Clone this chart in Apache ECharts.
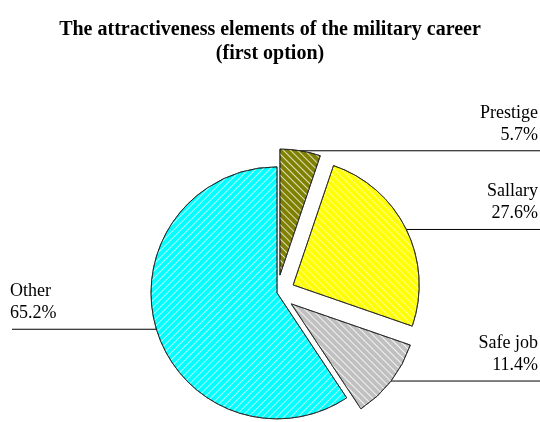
<!DOCTYPE html>
<html><head><meta charset="utf-8">
<script src="https://cdn.jsdelivr.net/npm/echarts@6/dist/echarts.min.js"></script>
<style>html,body{margin:0;padding:0;background:#fff}#c{width:540px;height:422px}</style>
</head><body><div id="c"></div>
<script>
// ---- data ----
const titleLines = ['The attractiveness elements of the military career', '(first option)'];
const categories = ['Prestige', 'Sallary', 'Safe job', 'Other'];
const values = [5.7, 27.6, 11.4, 65.2];
const exploded = [true, true, true, false];

// ---- styles / layout ----
const sliceColors = ['#808000', '#ffff00', '#c0c0c0', '#00ffff'];
const hatchRotation = [Math.PI / 4, Math.PI / 4, Math.PI / 4, -Math.PI / 4];
const hatchColor = ['rgba(255,255,255,0.75)', 'rgba(255,255,255,0.55)', 'rgba(255,255,255,0.8)', 'rgba(255,255,255,0.7)'];
const CENTER = ['51.3%', '69.4%'];
const RADIUS = 126;
const OFFSET = 18;
const FONT = '"Liberation Serif", "Times New Roman", serif';

const chart = echarts.init(document.getElementById('c'), null, { renderer: 'canvas' });

const pieData = categories.map((name, i) => ({
  name: name,
  value: values[i],
  selected: exploded[i],
  itemStyle: {
    color: sliceColors[i],
    borderColor: '#222',
    borderWidth: 0.8,
    decal: {
      symbol: 'rect',
      symbolSize: 1,
      dashArrayX: [1, 0],
      dashArrayY: [1, 4],
      rotation: hatchRotation[i],
      color: hatchColor[i]
    }
  }
}));

const labelData = categories.map((name, i) => ({ name: name, value: values[i] }));

function pctX(v) { return parseFloat(v) / 100 * chart.getWidth(); }
function pctY(v) { return parseFloat(v) / 100 * chart.getHeight(); }

chart.setOption({
  backgroundColor: '#ffffff',
  animation: false,
  title: titleLines.map((t, i) => ({
    text: t,
    left: 'center',
    top: 18 + i * 24,
    padding: 0,
    textStyle: { fontFamily: FONT, fontWeight: 'bold', fontSize: 20, lineHeight: 24, color: '#000' }
  })),
  series: [{
    type: 'pie',
    center: CENTER,
    radius: RADIUS,
    startAngle: 90,
    clockwise: true,
    selectedMode: 'multiple',
    selectedOffset: OFFSET,
    data: pieData,
    emphasis: { disabled: true },
    label: { show: false },
    labelLine: { show: false }
  }, {
    type: 'pie',
    center: CENTER,
    radius: RADIUS,
    startAngle: 90,
    clockwise: true,
    silent: true,
    selectedMode: false,
    data: labelData,
    itemStyle: { color: 'rgba(0,0,0,0)', borderWidth: 0 },
    emphasis: { disabled: true },
    label: {
      show: true,
      position: 'outside',
      formatter: '{b}\n{c}%',
      fontFamily: FONT,
      fontSize: 18,
      lineHeight: 22,
      color: '#000'
    },
    labelLine: { show: true, length: 10, length2: 10, lineStyle: { color: '#000', width: 1 } },
    labelLayout: function (p) {
      const W = chart.getWidth();
      const pts = p.labelLinePoints;
      if (!pts) return {};
      const cx = pctX(CENTER[0]), cy = pctY(CENTER[1]);
      let sx = pts[0][0], sy = pts[0][1];
      if (exploded[p.dataIndex]) {
        const dx = sx - cx, dy = sy - cy, len = Math.sqrt(dx * dx + dy * dy) || 1;
        sx += dx / len * OFFSET;
        sy += dy / len * OFFSET;
      }
      const isLeft = sx < cx;
      const linePts = isLeft
        ? [[sx, sy - 10], [sx, sy], [12, sy]]
        : [[sx, sy], [sx, sy], [W, sy]];
      return {
        x: isLeft ? 10 : W - 2,
        y: sy - 5,
        align: isLeft ? 'left' : 'right',
        verticalAlign: 'bottom',
        labelLinePoints: linePts
      };
    }
  }]
});
</script></body></html>
